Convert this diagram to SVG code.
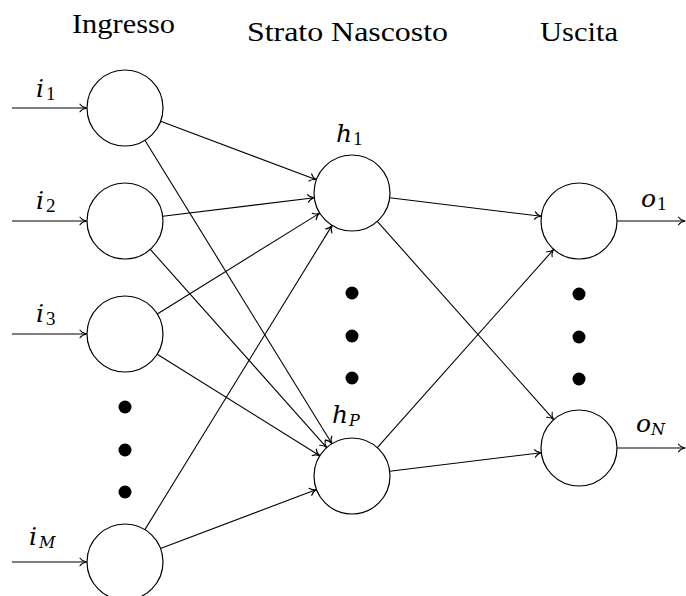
<svg xmlns="http://www.w3.org/2000/svg" width="686" height="596" viewBox="0 0 686 596">
  <style>
    .node { fill: #fff; stroke: #000; stroke-width: 1.2; }
    .edge { fill: none; stroke: #000; stroke-width: 1.1; marker-end: url(#tip); }
    .dot { fill: #000; }
    text { font-family: "Liberation Serif", "Times New Roman", serif; fill: #000; }
    .title { font-size: 28px; }
    .math { font-family: "DejaVu Serif", "Liberation Serif", serif; font-size: 25px; font-style: italic; }
    .s { font-family: "Liberation Serif", serif; font-size: 19px; font-style: normal; }
    .si { font-family: "DejaVu Serif", serif; font-size: 16px; font-style: italic; }
  </style>
  <defs>
    <marker id="tip" markerUnits="userSpaceOnUse" markerWidth="12" markerHeight="12" refX="0" refY="0" viewBox="-8 -6 10 12" orient="auto" overflow="visible">
      <path d="M -6.5,-3.8 C -5,-1.6 -2.5,-0.4 0,0 C -2.5,0.4 -5,1.6 -6.5,3.8" fill="none" stroke="#000" stroke-width="1.1" stroke-linecap="round" stroke-linejoin="round"/>
    </marker>
  </defs>

  <!-- column titles -->
  <text class="title" x="72" y="33" textLength="103" lengthAdjust="spacingAndGlyphs">Ingresso</text>
  <text class="title" x="247" y="41" textLength="201" lengthAdjust="spacingAndGlyphs">Strato Nascosto</text>
  <text class="title" x="540" y="41" textLength="78" lengthAdjust="spacingAndGlyphs">Uscita</text>

  <!-- connectors -->
  <g id="connectors">
    <!-- external inputs -->
    <line class="edge" x1="12" y1="108" x2="86.5" y2="108"/>
    <line class="edge" x1="12" y1="221" x2="86.5" y2="221"/>
    <line class="edge" x1="12" y1="334" x2="86.5" y2="334"/>
    <line class="edge" x1="12" y1="562" x2="86.5" y2="562"/>
    <!-- input to hidden -->
    <line class="edge" x1="160.6" y1="121.3" x2="316.4" y2="179.7"/>
    <line class="edge" x1="144.9" y1="140.3" x2="332.0" y2="443.7"/>
    <line class="edge" x1="162.7" y1="216.3" x2="314.3" y2="197.7"/>
    <line class="edge" x1="150.3" y1="249.4" x2="326.7" y2="447.6"/>
    <line class="edge" x1="157.3" y1="314.0" x2="319.7" y2="213.1"/>
    <line class="edge" x1="157.2" y1="354.2" x2="319.8" y2="455.8"/>
    <line class="edge" x1="144.9" y1="529.6" x2="332.1" y2="225.4"/>
    <line class="edge" x1="160.5" y1="548.5" x2="316.5" y2="489.5"/>
    <!-- hidden to output -->
    <line class="edge" x1="389.7" y1="197.7" x2="541.3" y2="216.3"/>
    <line class="edge" x1="377.3" y1="221.4" x2="553.7" y2="419.6"/>
    <line class="edge" x1="377.3" y1="447.6" x2="553.7" y2="249.4"/>
    <line class="edge" x1="389.7" y1="471.3" x2="541.3" y2="452.7"/>
    <!-- external outputs -->
    <line class="edge" x1="617" y1="221" x2="685" y2="221"/>
    <line class="edge" x1="617" y1="448" x2="685" y2="448"/>
  </g>

  <!-- input layer -->
  <g id="in1">
    <circle class="node" cx="125" cy="108" r="38"/>
    <text class="math" x="36" y="97">i<tspan class="s" dx="2" dy="3">1</tspan></text>
  </g>
  <g id="in2">
    <circle class="node" cx="125" cy="221" r="38"/>
    <text class="math" x="36" y="209">i<tspan class="s" dx="2" dy="3">2</tspan></text>
  </g>
  <g id="in3">
    <circle class="node" cx="125" cy="334" r="38"/>
    <text class="math" x="36" y="322">i<tspan class="s" dx="2" dy="3">3</tspan></text>
  </g>
  <g id="inM">
    <circle class="node" cx="125" cy="562" r="38"/>
    <text class="math" x="29" y="545">i<tspan class="si" dx="2" dy="3">M</tspan></text>
  </g>
  <g id="in-dots">
    <circle class="dot" cx="125" cy="407" r="6.5"/>
    <circle class="dot" cx="125" cy="450" r="6.5"/>
    <circle class="dot" cx="125" cy="492" r="6.5"/>
  </g>

  <!-- hidden layer -->
  <g id="h1">
    <circle class="node" cx="352" cy="193" r="38"/>
    <text class="math" x="336" y="142">h<tspan class="s" dx="1" dy="3">1</tspan></text>
  </g>
  <g id="hP">
    <circle class="node" cx="352" cy="476" r="38"/>
    <text class="math" x="332" y="423">h<tspan class="si" dx="1" dy="3">P</tspan></text>
  </g>
  <g id="hidden-dots">
    <circle class="dot" cx="352" cy="293" r="6.5"/>
    <circle class="dot" cx="352" cy="336" r="6.5"/>
    <circle class="dot" cx="352" cy="378" r="6.5"/>
  </g>

  <!-- output layer -->
  <g id="o1">
    <circle class="node" cx="579" cy="221" r="38"/>
    <text class="math" x="641" y="207">o<tspan class="s" dx="1" dy="3">1</tspan></text>
  </g>
  <g id="oN">
    <circle class="node" cx="579" cy="448" r="38"/>
    <text class="math" x="636" y="432">o<tspan class="si" dx="0" dy="3">N</tspan></text>
  </g>
  <g id="out-dots">
    <circle class="dot" cx="579" cy="294" r="6.5"/>
    <circle class="dot" cx="579" cy="337" r="6.5"/>
    <circle class="dot" cx="579" cy="379" r="6.5"/>
  </g>
</svg>
